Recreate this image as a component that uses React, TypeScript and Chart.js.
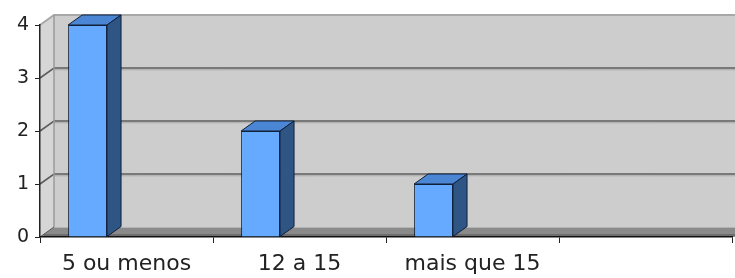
import React, { useEffect, useRef } from "react";
import { Chart, registerables } from "chart.js";

Chart.register(...registerables);

const categories = ["5 ou menos", "12 a 15", "mais que 15", ""];
const counts = [4, 2, 1, null];
const yTicks = [0, 1, 2, 3, 4];

const DX = 14;
const DY = -10;

const walls3d = {
  id: "walls3d",
  beforeDraw(chart: any) {
    const { ctx, chartArea } = chart;
    const ys = chart.scales.y;
    const L = chartArea.left;
    const R = chart.width + 20;
    const top = ys.getPixelForValue(4);
    const bot = ys.getPixelForValue(0);
    ctx.save();
    // back wall
    ctx.fillStyle = "#cdcdcd";
    ctx.fillRect(L + DX, top + DY, R, bot - top);
    // side wall
    ctx.beginPath();
    ctx.moveTo(L, top);
    ctx.lineTo(L + DX, top + DY);
    ctx.lineTo(L + DX, bot + DY);
    ctx.lineTo(L, bot);
    ctx.closePath();
    ctx.fillStyle = "#d6d6d6";
    ctx.fill();
    // floor
    ctx.beginPath();
    ctx.moveTo(L, bot);
    ctx.lineTo(L + DX, bot + DY);
    ctx.lineTo(R + DX, bot + DY);
    ctx.lineTo(R, bot);
    ctx.closePath();
    ctx.fillStyle = "#8a8a8a";
    ctx.fill();
    ctx.strokeStyle = "#b4b4b4";
    ctx.lineWidth = 1;
    ctx.beginPath();
    ctx.moveTo(L + DX, bot + DY + 0.5);
    ctx.lineTo(R, bot + DY + 0.5);
    ctx.stroke();
    ctx.strokeStyle = "#6e6e6e";
    ctx.lineWidth = 2;
    ctx.beginPath();
    ctx.moveTo(L + 4, bot - 2);
    ctx.lineTo(R, bot - 2);
    ctx.stroke();
    // gridlines
    yTicks.forEach((v) => {
      if (v === 0) return;
      const y = ys.getPixelForValue(v);
      ctx.strokeStyle = v === 4 ? "#a8a8a8" : "#5e5e5e";
      ctx.lineWidth = v === 4 ? 2 : 1.6;
      ctx.beginPath();
      ctx.moveTo(L, y);
      ctx.lineTo(L + DX, y + DY);
      ctx.lineTo(R, y + DY);
      ctx.stroke();
      if (v !== 4) {
        ctx.strokeStyle = "#a9a9a9";
        ctx.lineWidth = 1;
        ctx.beginPath();
        ctx.moveTo(L + DX, y + DY + 1.8);
        ctx.lineTo(R, y + DY + 1.8);
        ctx.stroke();
      }
    });
    // back wall left edge
    ctx.strokeStyle = "#9a9a9a";
    ctx.lineWidth = 1.5;
    ctx.beginPath();
    ctx.moveTo(L + DX, top + DY);
    ctx.lineTo(L + DX, bot + DY);
    ctx.stroke();
    // floor left edge
    ctx.strokeStyle = "#555";
    ctx.lineWidth = 1;
    ctx.beginPath();
    ctx.moveTo(L, bot);
    ctx.lineTo(L + DX, bot + DY);
    ctx.stroke();
    ctx.restore();
  },
  afterDatasetsDraw(chart: any) {
    const { ctx } = chart;
    const meta = chart.getDatasetMeta(0);
    ctx.save();
    ctx.lineWidth = 1;
    ctx.strokeStyle = "#10203a";
    ctx.lineJoin = "miter";
    meta.data.forEach((bar: any, i: number) => {
      if (counts[i] == null) return;
      const p = bar.getProps(["x", "y", "base", "width"], true);
      const l = p.x - p.width / 2;
      const r = p.x + p.width / 2;
      // top face
      ctx.beginPath();
      ctx.moveTo(l, p.y);
      ctx.lineTo(l + DX, p.y + DY);
      ctx.lineTo(r + DX, p.y + DY);
      ctx.lineTo(r, p.y);
      ctx.closePath();
      ctx.fillStyle = "#4a86d4";
      ctx.fill();
      ctx.stroke();
      // side face
      ctx.beginPath();
      ctx.moveTo(r, p.y);
      ctx.lineTo(r + DX, p.y + DY);
      ctx.lineTo(r + DX, p.base + DY);
      ctx.lineTo(r, p.base);
      ctx.closePath();
      ctx.fillStyle = "#2f5585";
      ctx.fill();
      ctx.stroke();
    });
    ctx.restore();
  },
};

export default function App() {
  const ref = useRef<HTMLCanvasElement | null>(null);
  useEffect(() => {
    if (!ref.current) return;
    const chart = new Chart(ref.current, {
      type: "bar",
      data: {
        labels: categories,
        datasets: [
          {
            data: counts,
            backgroundColor: "#66aaff",
            borderColor: "#10203a",
            borderWidth: 1,
            categoryPercentage: 0.9,
            barPercentage: 0.5,
          } as any,
          {
            data: [null, null, null, null],
            categoryPercentage: 0.9,
            barPercentage: 0.5,
          } as any,
        ],
      },
      options: {
        animation: false,
        responsive: true,
        maintainAspectRatio: false,
        layout: { padding: { top: 25, right: 3, left: 0, bottom: 0 } },
        plugins: { legend: { display: false }, tooltip: { enabled: false } },
        scales: {
          x: {
            offset: true,
            grid: {
              offset: true,
              drawOnChartArea: false,
              drawTicks: true,
              tickLength: 6,
              color: "#222",
            },
            border: { display: true, color: "#111", width: 1.5 },
            ticks: {
              color: "#222",
              font: { family: "DejaVu Sans", size: 22 },
              padding: 8,
              maxRotation: 0,
              autoSkip: false,
            },
            afterFit: (s: any) => {
              s.height = 41;
            },
          },
          y: {
            min: 0,
            max: 4,
            grid: {
              drawOnChartArea: false,
              drawTicks: true,
              tickLength: 5,
              color: "#222",
            },
            border: { display: true, color: "#222", width: 1.5 },
            ticks: {
              stepSize: 1,
              color: "#222",
              font: { family: "DejaVu Sans", size: 19 },
              padding: 6,
            },
            afterFit: (s: any) => {
              s.width = 40;
            },
          },
        },
      },
      plugins: [walls3d],
    });
    return () => chart.destroy();
  }, []);
  return (
    <div style={{ position: "fixed", left: 0, top: 0, width: 735, height: 278, background: "#fff" }}>
      <canvas ref={ref} />
    </div>
  );
}
